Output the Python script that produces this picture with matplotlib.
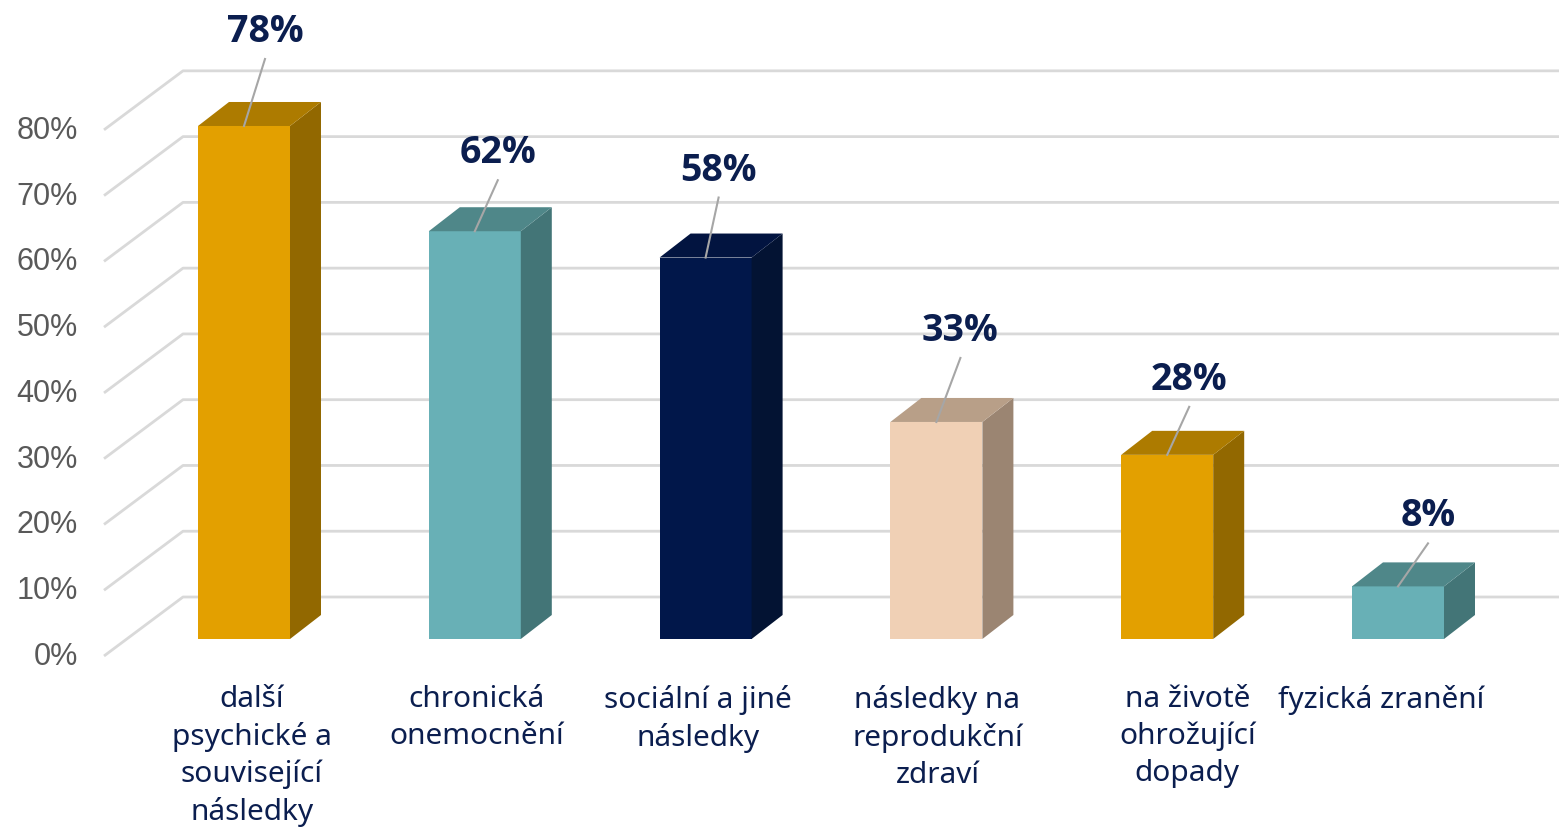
import matplotlib
matplotlib.use("Agg")
import matplotlib.pyplot as plt
from matplotlib.patches import Polygon
from matplotlib import font_manager

# ---------------- data ----------------
categories = [
    "další\npsychické a\nsouvisející\nnásledky",
    "chronická\nonemocnění",
    "sociální a jiné\nnásledky",
    "následky na\nreprodukční\nzdraví",
    "na životě\nohrožující\ndopady",
    "fyzická zranění",
]
values = [78, 62, 58, 33, 28, 8]
value_labels = ["78%", "62%", "58%", "33%", "28%", "8%"]
ytick_values = [0, 10, 20, 30, 40, 50, 60, 70, 80]
ytick_labels = ["0%", "10%", "20%", "30%", "40%", "50%", "60%", "70%", "80%"]

# ---------------- style ----------------
front_colors = ["#E3A000", "#68B0B6", "#01174A", "#F0D0B5", "#E3A000", "#68B0B6"]
side_colors = ["#926800", "#437577", "#031333", "#9B8572", "#926800", "#437577"]
top_colors = ["#AD7B00", "#4F8789", "#021440", "#B89F88", "#AD7B00", "#4F8789"]
navy = "#0B1E4F"
grid_color = "#D9D9D9"
tick_color = "#595959"

# pick a bold-capable family
bold_family = "DejaVu Sans"
for fam in ["Open Sans", "Lato", "Roboto", "Noto Sans"]:
    try:
        fp = font_manager.FontProperties(family=fam, weight="bold")
        path = font_manager.findfont(fp, fallback_to_default=False)
        if "bold" in path.lower():
            bold_family = fam
            break
    except Exception:
        pass

W, H = 1559, 829
fig = plt.figure(figsize=(W / 100, H / 100), dpi=100)
ax = fig.add_axes([0, 0, 1, 1])

# pixel <-> data mapping (layout)
X0_PX, PX_PER_CAT = 244.0, 230.8
Y0_PX, PX_PER_PCT = 640.0, 6.577
ax.set_xlim((0 - X0_PX) / PX_PER_CAT, (W - X0_PX) / PX_PER_CAT)
ax.set_ylim((Y0_PX - H) / PX_PER_PCT, Y0_PX / PX_PER_PCT)
ax.axis("off")

def dxp(px):
    return px / PX_PER_CAT

def dyp(px):
    return px / PX_PER_PCT

# wall geometry (px)
wall_front_x, wall_back_x = 104.0, 183.0
front_dy, back_dy = -17.0, 42.0
xf = (wall_front_x - X0_PX) / PX_PER_CAT
xb = (wall_back_x - X0_PX) / PX_PER_CAT
x_right = ax.get_xlim()[1]

for v, lab in zip(ytick_values, ytick_labels):
    ax.plot([xf, xb, x_right], [v + dyp(front_dy), v + dyp(back_dy), v + dyp(back_dy)],
            color=grid_color, lw=2.0, zorder=1, solid_capstyle="butt")
    ax.text(xf - dxp(26), v + dyp(front_dy), lab, ha="right", va="center",
            fontsize=22, color=tick_color, family=["Liberation Sans", "DejaVu Sans"])

# bars
bw = 92 / PX_PER_CAT
ddx, ddy = dxp(31), dyp(24)
xs = list(range(len(values)))
ax.bar(xs, values, width=bw, color=front_colors, zorder=3, linewidth=0)
for x, v, sc, tc in zip(xs, values, side_colors, top_colors):
    r = x + bw / 2
    l = x - bw / 2
    ax.add_patch(Polygon([(r, 0), (r + ddx, ddy), (r + ddx, v + ddy), (r, v)],
                         closed=True, facecolor=sc, edgecolor="none", zorder=3))
    ax.add_patch(Polygon([(l, v), (l + ddx, v + ddy), (r + ddx, v + ddy), (r, v)],
                         closed=True, facecolor=tc, edgecolor="none", zorder=3))

# value labels with leader lines
label_dx_px = [21, 23, 13, 24, 22, 30]
label_dy_px = [95, 79, 88, 92, 76, 71]
for x, v, t, ldx, ldy in zip(xs, values, value_labels, label_dx_px, label_dy_px):
    lx = x + dxp(ldx)
    ly = v + dyp(ldy)
    ax.text(lx, ly, t, ha="center", va="center", fontsize=27, fontweight="bold",
            color=navy, family=[bold_family, "DejaVu Sans"], zorder=5)
    ax.plot([lx, x], [ly - dyp(28), v], color="#A6A6A6", lw=1.5, zorder=4)

# category labels
cat_dx_px = [8, 2, -8, 1, 20, -17]
for x, c, cdx in zip(xs, categories, cat_dx_px):
    ax.text(x + dxp(cdx), dyp(-45), c, ha="center", va="top", fontsize=21.5,
            color=navy, family=["Noto Sans", "DejaVu Sans"], linespacing=1.35)

fig.savefig("out.png", dpi=100)
